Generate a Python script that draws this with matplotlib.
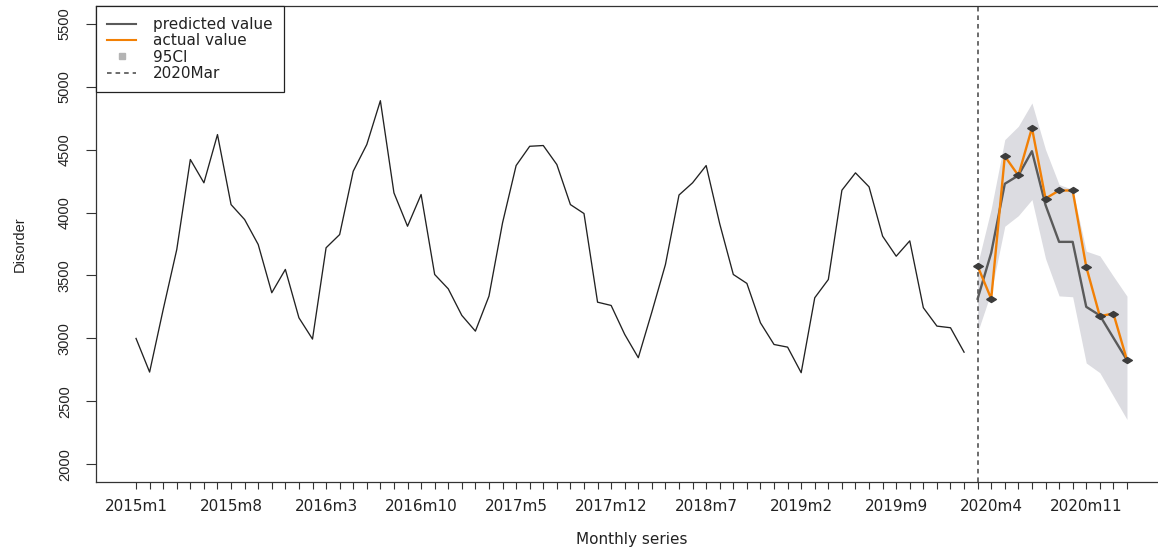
import matplotlib
matplotlib.use("Agg")
import matplotlib.pyplot as plt
from matplotlib.lines import Line2D
import numpy as np

# Monthly disorder counts, 2015m1 - 2020m2
observed = [3000, 2733, 3230, 3706, 4421, 4236, 4619, 4063, 3944, 3746,
            3363, 3548, 3164, 2995, 3720, 3825, 4328, 4540, 4888, 4156,
            3891, 4143, 3508, 3394, 3183, 3058, 3336, 3918, 4373, 4526,
            4532, 4381, 4063, 3992, 3288, 3262, 3032, 2847, 3210, 3587,
            4139, 4236, 4373, 3910, 3508, 3437, 3124, 2952, 2931, 2728,
            3323, 3468, 4177, 4315, 4204, 3812, 3653, 3775, 3244, 3098,
            3085, 2891]

# Forecast window, 2020m3 - 2021m2
actual = [3574, 3315, 4447, 4294, 4672, 4111, 4175, 4175, 3569, 3177, 3198, 2828]
predicted = [3315, 3680, 4228, 4294, 4487, 4060, 3767, 3767, 3251, 3183, 3005, 2828]
ci_upper = [3590, 4030, 4579, 4685, 4870, 4500, 4222, 4183, 3693, 3656, 3494, 3336]
ci_lower = [3050, 3370, 3891, 3975, 4103, 3635, 3338, 3331, 2805, 2728, 2542, 2357]

# Month labels for the whole span
months = [f"{y}m{m}" for y in range(2015, 2022) for m in range(1, 13)][:len(observed) + len(actual)]
label_step = 7
break_month = "2020m3"

y_ticks = [2000, 2500, 3000, 3500, 4000, 4500, 5000, 5500]

x_all = np.arange(len(months))
x_obs = x_all[:len(observed)]
x_fc = x_all[len(observed):len(observed) + len(actual)]
x_break = months.index(break_month)

W, H = 1158, 554
fig = plt.figure(figsize=(W / 100, H / 100), dpi=100)
ax = fig.add_axes([96.4 / W, (H - 482) / H, (1166.6 - 96.4) / W, 476 / H])

line_col = "#222222"
ax.fill_between(x_fc, ci_lower, ci_upper, color="#dcdce1", linewidth=0, zorder=1)
ax.plot(x_obs, observed, color=line_col, lw=0.95, zorder=3)
ax.plot(x_fc, predicted, color="#5a5a5a", lw=1.7, zorder=3)
ax.plot(x_fc, actual, color="#f28005", lw=1.7, zorder=4)
diamond = [(-1, 0), (0, 0.62), (1, 0), (0, -0.62), (-1, 0)]
ax.plot(x_fc, actual, linestyle="none", marker=diamond, ms=7,
        color="#3c3c3c", zorder=5)
ax.axvline(x_break, color="#444444", lw=1.1, linestyle=(0, (3, 2.6)), zorder=2)

ax.set_xlim(-2.92, len(months) - 1 + 2.92)
ax.set_ylim(1860, 5640)

sans_h = ["DejaVu Sans"]
sans_v = ["Liberation Sans", "DejaVu Sans"]

ax.set_xticks(x_all[::label_step])
ax.set_xticklabels(months[::label_step], fontsize=11, family=sans_h, color="#222222")
ax.set_xticks(x_all, minor=True)
ax.tick_params(axis="x", which="both", length=5.0, width=0.8, color="#333333", pad=7.5)

ax.set_yticks(y_ticks)
ax.set_yticklabels([str(v) for v in y_ticks], rotation=90, va="center",
                   fontsize=10.5, family=sans_v, color="#222222")
ax.tick_params(axis="y", length=7.2, width=0.8, color="#333333", pad=10.5)

for s in ax.spines.values():
    s.set_color("#333333")
    s.set_linewidth(0.9)
ax.spines["right"].set_visible(False)

ax.set_xlabel("Monthly series", fontsize=11, family=sans_h, color="#222222")
ax.xaxis.set_label_coords(0.5, (482 - 532) / 476)
ax.set_ylabel("Disorder", fontsize=10.5, family=sans_v, color="#222222")
ax.yaxis.set_label_coords((26.3 - 96.4) / 1070.2, 0.5)

handles = [
    Line2D([], [], color="#5a5a5a", lw=1.5),
    Line2D([], [], color="#f28005", lw=1.5),
    Line2D([], [], linestyle="none", marker="s", ms=5, color="#b4b4b4"),
    Line2D([], [], color="#444444", lw=1.1, linestyle=(0, (3, 2.6))),
]
labels = ["predicted value", "actual value", "95CI", "2020Mar"]
leg = ax.legend(handles, labels, loc="upper left", bbox_to_anchor=(0, 1),
                borderaxespad=0, fancybox=False, framealpha=1,
                prop={"family": sans_h, "size": 11}, borderpad=0.72,
                handlelength=1.9, handletextpad=1.1, labelspacing=0.09)
leg.get_frame().set_edgecolor("#222222")
leg.get_frame().set_linewidth(0.9)
for t in leg.get_texts():
    t.set_color("#222222")

fig.savefig("out.png", dpi=100, facecolor="white")
